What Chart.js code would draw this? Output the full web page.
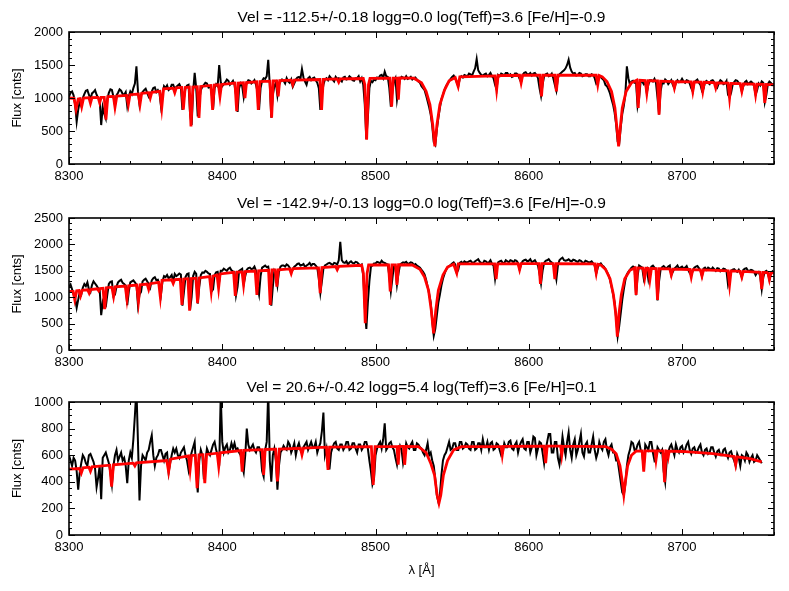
<!DOCTYPE html>
<html>
<head>
<meta charset="utf-8">
<title>Spectrum fits</title>
<script src="https://cdn.jsdelivr.net/npm/chart.js@4.4.0/dist/chart.umd.min.js"></script>
<style>
  body { margin: 0; background: #fff; }
  canvas { position: absolute; left: 0; }
</style>
</head>
<body>
<canvas id="c1" width="789" height="190" style="top:0px"></canvas>
<canvas id="c2" width="789" height="186" style="top:190px"></canvas>
<canvas id="c3" width="789" height="215" style="top:376px"></canvas>
<script>
// observed spectra, one value per 1 A starting at 8300 A
const waveStart = 8300;
const waveStep = 1;

const titles = [
  'Vel = -112.5+/-0.18 logg=0.0 log(Teff)=3.6 [Fe/H]=-0.9',
  'Vel = -142.9+/-0.13 logg=0.0 log(Teff)=3.6 [Fe/H]=-0.9',
  'Vel = 20.6+/-0.42 logg=5.4 log(Teff)=3.6 [Fe/H]=0.1'
];

const flux1 = [
  1020,1080,1100,1040,900,640,820,950,880,1000,
  1060,1110,1120,1050,980,1070,1090,1120,1050,1000,
  980,590,860,760,690,980,1080,1130,1120,1020,
  890,1040,1080,1130,1110,1060,1050,1090,880,1020,
  1100,1060,1150,1220,1480,1100,900,1040,1090,1120,
  1140,1080,1020,1060,1100,1150,1160,1090,1120,1080,
  880,1040,1180,1150,1190,1120,1140,1200,1200,1130,
  1170,1190,1210,1160,820,1000,1150,1190,1200,760,
  590,1100,1380,1150,720,960,1120,1170,1200,1230,
  1220,1160,1180,1100,830,1150,1210,1180,1500,1240,
  1180,1210,1240,1280,1260,1200,1230,1260,1200,1040,
  790,1150,1220,1180,1010,1150,1230,1270,1260,1220,
  1240,1270,1200,1100,820,1150,1260,1300,1290,1330,
  1580,1200,700,1050,1180,1230,1040,1200,1250,1280,
  1260,1220,1300,1250,1230,1280,1170,1220,1280,1310,
  1320,1290,1440,1310,1250,1200,1300,1320,1270,1300,
  1310,1270,1230,1150,820,1050,1200,1280,1300,1270,
  1330,1300,1280,1250,1320,1290,1300,1270,1250,1310,
  1320,1280,1290,1330,1310,1270,1260,1300,1300,1330,
  1250,1300,1200,900,380,700,1150,1260,1240,1280,
  1270,1310,1300,1340,1350,1300,1400,1330,1320,1150,
  870,1100,1250,1300,980,1150,1280,1320,1310,1290,
  1330,1290,1300,1320,1280,1300,1310,1280,1250,1230,
  1180,1150,1120,1040,950,860,750,580,330,290,
  520,700,850,980,1050,1120,1180,1220,1250,1290,
  1320,1340,1300,1240,1180,1300,1330,1310,1350,1340,
  1330,1370,1360,1340,1400,1450,1590,1420,1380,1350,
  1340,1360,1370,1330,1350,1380,1330,1300,1200,1130,
  1350,1330,1370,1360,1340,1380,1380,1340,1360,1320,
  1330,1370,1370,1350,1290,1240,1350,1380,1390,1360,
  1360,1380,1340,1370,1380,1350,1300,1150,1030,1200,
  1330,1360,1370,1330,1340,1370,1300,1200,1110,1300,
  1360,1380,1400,1420,1450,1500,1580,1460,1400,1370,
  1380,1340,1350,1380,1370,1330,1340,1360,1360,1330,
  1330,1360,1350,1300,1220,1250,1310,1320,1290,1270,
  1200,1180,1130,1070,980,900,780,600,340,310,
  560,760,880,1050,1480,1300,1200,1250,1260,1230,
  1230,880,1000,1260,1250,1210,1240,1080,1200,1270,
  1270,1250,1290,1230,1000,750,1100,1230,1220,1280,
  1260,1210,1240,1270,1200,1150,1230,1270,1240,1250,
  1290,1250,1230,1270,1260,1220,1150,1100,1240,1260,
  1280,1230,1200,1110,1140,1240,1260,1230,1210,1260,
  1270,1240,1200,1160,1230,1270,1250,1210,1220,1260,
  1050,1010,1080,1200,1240,1270,1260,1230,1200,1100,
  1180,1240,1260,1210,1230,1250,1230,1180,1050,1120,
  1220,1190,1250,1230,940,1050,1210,1250,1230,1200,
  1220
];

const flux2 = [
  1200,1240,1150,1050,980,800,950,1100,1050,1180,
  1250,1210,1280,1150,1100,1230,1300,1260,1220,1170,
  1150,660,900,800,820,1050,1250,1290,1300,1020,
  1050,1200,1280,1310,1330,1270,1250,1220,850,1100,
  1280,1300,1320,1280,1240,850,1050,1100,1300,1330,
  1350,1300,1250,1180,1320,1360,1380,1320,1330,1200,
  1050,1300,1400,1380,1420,1360,1380,1420,1300,1440,
  1400,1420,1450,1430,840,1100,1380,1440,1450,760,
  1000,1400,1480,1440,880,1200,1420,1470,1460,1500,
  1480,1450,1440,1110,1150,1420,1470,1480,1300,1500,
  1500,1540,1520,1500,1540,1560,1510,1490,1480,1040,
  1200,1500,1520,1540,1250,1400,1520,1550,1560,1530,
  1540,1580,1500,1200,1050,1400,1560,1580,1600,1570,
  1580,1400,840,1200,1500,1450,1230,1480,1580,1600,
  1600,1580,1620,1600,1560,1480,1520,1580,1600,1630,
  1640,1600,1610,1630,1570,1600,1620,1650,1600,1630,
  1630,1600,1560,1350,1080,1300,1540,1600,1620,1640,
  1650,1630,1610,1650,1640,1620,1700,2050,1700,1660,
  1650,1680,1620,1660,1680,1650,1640,1670,1660,1630,
  1600,1620,1400,800,400,900,1300,1580,1600,1640,
  1640,1670,1660,1640,1690,1660,1650,1630,1620,1400,
  1110,1350,1600,1580,1240,1450,1620,1640,1660,1650,
  1670,1630,1640,1660,1650,1610,1630,1600,1580,1560,
  1520,1480,1430,1330,1200,1060,900,550,270,400,
  650,900,1050,1220,1350,1440,1520,1560,1590,1610,
  1640,1660,1620,1460,1520,1650,1670,1640,1680,1660,
  1660,1680,1690,1660,1650,1680,1700,1720,1670,1650,
  1640,1690,1680,1650,1660,1700,1630,1600,1350,1560,
  1660,1680,1690,1650,1650,1700,1680,1660,1700,1690,
  1660,1700,1690,1650,1530,1620,1680,1700,1710,1680,
  1690,1720,1660,1680,1700,1650,1600,1450,1260,1500,
  1650,1690,1700,1720,1680,1660,1620,1500,1340,1600,
  1700,1730,1750,1700,1690,1700,1720,1690,1680,1710,
  1700,1680,1670,1700,1690,1660,1650,1690,1680,1660,
  1660,1680,1640,1600,1450,1560,1620,1640,1600,1580,
  1530,1480,1420,1330,1200,1060,900,600,260,450,
  700,950,1150,1320,1430,1480,1520,1560,1580,1560,
  1040,1400,1600,1580,1560,1360,1500,1540,1340,1500,
  1580,1600,1560,1520,940,1300,1520,1570,1590,1560,
  1550,1580,1600,1420,1480,1540,1570,1600,1540,1560,
  1580,1540,1560,1590,1520,1460,1420,1500,1560,1580,
  1590,1550,1500,1400,1540,1560,1520,1560,1540,1520,
  1560,1530,1500,1550,1540,1490,1510,1540,1530,1500,
  1240,1350,1500,1520,1530,1500,1480,1520,1460,1380,
  1520,1540,1550,1500,1500,1520,1510,1480,1420,1470,
  1480,1400,1150,1380,1480,1500,1470,1330,1460,1490,
  1440
];

const flux3 = [
  600,560,520,580,560,480,340,470,540,600,
  580,540,520,600,610,580,550,500,360,430,
  520,270,580,600,620,580,540,470,380,520,
  600,640,560,590,620,560,580,520,390,560,
  620,580,720,900,1100,700,260,520,600,580,
  560,620,640,700,750,600,520,580,600,640,
  640,600,560,610,620,470,540,600,650,620,
  650,600,580,620,640,660,600,560,490,570,
  620,660,700,480,320,560,640,600,420,560,
  650,620,600,640,680,700,640,600,520,1050,
  700,620,660,680,620,640,690,650,690,640,
  650,620,600,520,470,600,800,680,640,660,
  680,640,620,660,660,620,480,440,640,700,
  1080,560,400,600,650,560,340,520,620,640,
  670,650,640,700,680,620,650,690,600,660,
  690,640,620,660,680,700,640,670,700,660,
  660,700,620,660,690,780,920,600,650,500,
  500,620,660,690,700,650,640,680,680,640,
  660,700,700,640,650,690,690,650,620,680,
  680,640,660,700,700,650,560,480,380,420,
  600,650,680,700,650,720,840,640,660,690,
  700,660,640,580,530,620,670,640,540,600,
  690,660,650,680,700,640,640,690,680,660,
  650,620,600,640,690,600,620,560,520,420,
  300,250,300,450,560,600,620,660,700,640,
  650,690,690,640,640,700,700,650,660,690,
  680,650,640,700,700,640,650,690,690,640,
  720,660,660,700,640,690,700,640,650,690,
  680,640,600,620,690,660,660,700,710,650,
  640,680,700,620,670,700,720,650,640,700,
  700,620,660,740,730,600,650,700,690,620,
  540,640,700,760,760,620,620,700,700,580,
  530,620,740,660,600,700,770,640,580,680,
  720,600,640,700,760,620,590,680,700,620,
  620,680,740,640,580,620,700,660,640,700,
  720,640,600,660,680,620,620,560,560,480,
  400,320,300,380,520,600,640,700,690,640,
  640,680,700,640,620,500,680,660,640,700,
  700,620,560,580,660,640,620,640,480,400,
  560,620,660,680,640,600,680,640,620,660,
  670,620,640,680,700,640,610,650,660,620,
  630,660,680,620,600,640,650,610,620,660,
  660,620,590,630,640,600,600,640,650,610,
  580,620,630,590,560,520,610,580,520,600,
  590,560,620,600,550,580,600,550,560,600,
  580,560,540
];

// best-fit template, [wavelength, flux]
const model1 = [
  [8300,1000],[8303.3,995],[8304.6,830],[8306,985],[8307.3,990],[8308.3,870],[8309.5,1000],
  [8313,1005],[8314,920],[8315,1005],[8319,1010],[8320,930],[8321,1010],[8323,1010],[8324.1,672],
  [8325.3,1020],[8329,1025],[8330,860],[8331.2,1030],[8337.6,1040],[8338.7,900],[8339.8,1050],
  [8345.2,1060],[8346.3,900],[8347.4,1070],[8352,1080],[8353,1000],[8354,1085],[8359.3,1100],
  [8360.5,850],[8361.7,1140],[8368,1150],[8369,1080],[8370,1155],[8373.5,1160],[8374.6,823],
  [8375.8,1160],[8378.5,1165],[8379.6,570],[8380.8,1165],[8383.7,1170],[8384.8,700],[8385.9,1175],
  [8392.6,1190],[8393.7,820],[8394.8,1195],[8397.5,1200],[8398.5,1025],[8399.5,1205],[8408.3,1225],
  [8409.4,800],[8410.5,1225],[8413.8,1230],[8414.8,1000],[8415.8,1235],[8422.4,1245],[8423.5,820],
  [8424.6,1250],[8431.1,1255],[8432.2,700],[8433.3,1260],[8435.5,1260],[8436.5,1025],[8437.5,1265],
  [8445,1270],[8446,1200],[8447,1272],[8463.7,1280],[8464.8,820],[8465.9,1282],[8475,1290],
  [8476,1240],[8477,1290],[8492,1295],[8493,1200],[8494.2,370],[8495.4,1200],[8496.4,1298],
  [8509.4,1300],[8510.5,870],[8511.6,1300],[8514,1300],[8514.9,975],[8515.8,1305],[8525,1300],
  [8530,1230],[8533,1100],[8535.5,900],[8537.3,600],[8538.7,268],[8540.1,600],[8542,900],
  [8545,1120],[8548,1260],[8552,1310],[8553.9,1175],[8555,1320],[8578,1335],[8579,1125],
  [8580,1340],[8594,1345],[8595,1230],[8596,1345],[8607.3,1345],[8608.3,1025],[8609.3,1345],
  [8617,1345],[8618,1100],[8619,1348],[8644,1345],[8645,1200],[8646,1340],[8648,1320],
  [8651,1250],[8654,1100],[8656.2,850],[8657.5,550],[8658.6,268],[8659.7,550],[8661,850],
  [8663.5,1100],[8667,1230],[8670.4,1270],[8671.4,850],[8672.4,1268],[8676,1265],[8677,1075],
  [8678,1262],[8684,1258],[8685,747],[8686,1255],[8694,1250],[8695,1150],[8696,1248],
  [8706,1245],[8707,1100],[8708,1243],[8712.5,1240],[8713.5,1100],[8714.5,1238],[8721,1232],
  [8722,1150],[8723,1230],[8730,1225],[8731,1000],[8732,1222],[8738,1218],[8739,1100],
  [8740,1215],[8747,1212],[8748,1050],[8749,1210],[8753,1208],[8754,925],[8755,1205],[8760,1200]
];

const model2 = [
  [8300,1110],[8302.7,1110],[8303.8,950],[8305,1120],[8306.5,1125],[8307.5,1025],[8308.5,1130],
  [8312.2,1140],[8313.2,1076],[8314.2,1145],[8318.5,1160],[8319.4,1120],[8320.3,1165],[8322.2,1170],
  [8323.3,772],[8324.4,1180],[8328,1190],[8329.1,1013],[8330.2,1195],[8336.7,1210],[8337.8,962],
  [8338.9,1215],[8344.2,1230],[8345.3,918],[8346.4,1235],[8351,1250],[8352,1150],[8353,1255],
  [8358.5,1280],[8359.6,1000],[8360.7,1320],[8367,1330],[8368,1260],[8369,1335],[8372.6,1340],
  [8373.7,854],[8374.8,1345],[8377.6,1350],[8378.7,747],[8379.8,1355],[8382.8,1360],[8383.9,886],
  [8385,1365],[8391.7,1390],[8392.8,1108],[8393.9,1400],[8396.6,1420],[8397.6,1170],[8398.6,1440],
  [8407.4,1470],[8408.5,1025],[8409.6,1475],[8412.9,1480],[8413.9,1234],[8414.9,1485],[8421.5,1495],
  [8422.6,1044],[8423.7,1500],[8430.2,1510],[8431.3,854],[8432.4,1515],[8434.6,1515],[8435.6,1200],
  [8436.6,1520],[8444,1535],[8445,1450],[8446,1540],[8462.8,1555],[8463.9,1076],[8465,1560],
  [8474,1580],[8475,1520],[8476,1585],[8491,1605],[8492.1,1450],[8493.3,506],[8494.5,1450],
  [8495.5,1610],[8508.5,1612],[8509.6,1108],[8510.7,1612],[8513,1612],[8514,1234],[8515,1614],
  [8524,1610],[8529,1530],[8532,1380],[8534.6,1130],[8536.4,750],[8537.9,316],[8539.3,750],
  [8541,1130],[8544,1420],[8547,1570],[8551,1625],[8553,1456],[8554,1630],[8577.7,1632],
  [8578.7,1342],[8579.7,1633],[8593,1635],[8594,1519],[8595,1635],[8606.6,1635],[8607.6,1253],
  [8608.6,1635],[8616,1635],[8617,1342],[8618,1635],[8643,1630],[8644,1456],[8645,1625],
  [8647,1610],[8650,1530],[8653,1350],[8655.2,1050],[8656.7,700],[8657.8,253],[8658.9,700],
  [8660.4,1050],[8662.6,1350],[8666,1510],[8669,1555],[8670,1044],[8671,1553],[8674.6,1550],
  [8675.6,1361],[8676.6,1548],[8678,1546],[8679,1329],[8680,1544],[8683,1540],[8684,950],
  [8685,1538],[8692,1535],[8693,1420],[8694,1533],[8705,1525],[8706,1380],[8707,1523],
  [8712,1518],[8713,1400],[8714,1516],[8730,1500],[8731,1234],[8732,1498],[8738,1490],
  [8739,1380],[8740,1488],[8751,1470],[8752,1152],[8753,1468],[8756,1465],[8757,1330],
  [8758,1462],[8760,1460]
];

const model3 = [
  [8300,495],[8306.8,500],[8308,465],[8309.2,505],[8313,510],[8314,480],[8315,512],
  [8326.6,525],[8327.8,364],[8329,528],[8342,540],[8343,520],[8344,542],[8363.8,560],
  [8365,477],[8366.2,570],[8378,595],[8379,490],[8380,598],[8382.4,600],[8383.6,352],
  [8384.8,602],[8387.4,604],[8388.6,389],[8389.8,606],[8396.7,615],[8397.7,515],[8398.7,618],
  [8412,635],[8413,477],[8414,636],[8426,642],[8427,452],[8428,643],[8434.8,645],[8436,402],
  [8437.2,646],[8451,652],[8452,603],[8453,653],[8468,660],[8469,490],[8470,661],[8497.3,665],
  [8498.5,377],[8499.7,665],[8514,666],[8514.8,528],[8515.6,666],[8518.2,666],[8519,528],
  [8520,666],[8528,664],[8533,620],[8536,540],[8538.5,450],[8540.2,300],[8541.4,239],
  [8542.6,300],[8544.3,450],[8547,560],[8551,640],[8556,664],[8582,667],[8582.7,603],
  [8583.5,667],[8610,668],[8611,540],[8612,668],[8620.8,668],[8621.5,600],[8622.3,668],
  [8650,665],[8654,645],[8657,610],[8659.5,520],[8661,400],[8662,302],[8663,400],[8664.5,520],
  [8667,600],[8670,630],[8674,632],[8675,477],[8676,632],[8682.3,632],[8683,565],[8683.8,632],
  [8687.6,632],[8688.6,397],[8689.6,632],[8690.4,630],[8691,590],[8691.6,630],[8700,628],
  [8720,612],[8734,590],[8735,528],[8736,588],[8745,572],[8752,550]
];

const FONT = "'Liberation Sans', Arial, Helvetica, sans-serif";

// IDL style frame: box plus inward ticks on all four sides
const frameTicks = {
  id: 'frameTicks',
  afterDatasetsDraw(chart, args, opts) {
    const { ctx, chartArea: a, scales: { x, y } } = chart;
    ctx.save();
    ctx.strokeStyle = '#000';
    ctx.lineWidth = 1;
    ctx.beginPath();
    for (let v = 8300; v <= 8760; v += 20) {
      const px = Math.round(x.getPixelForValue(v)) + 0.5;
      const len = v % 100 === 0 ? 6 : 3;
      ctx.moveTo(px, a.bottom); ctx.lineTo(px, a.bottom - len);
      ctx.moveTo(px, a.top); ctx.lineTo(px, a.top + len);
    }
    for (let v = 0; v <= y.max; v += opts.minor) {
      const py = Math.round(y.getPixelForValue(v)) + 0.5;
      const len = v % opts.major === 0 ? 6 : 3;
      ctx.moveTo(a.left, py); ctx.lineTo(a.left + len, py);
      ctx.moveTo(a.right, py); ctx.lineTo(a.right - len, py);
    }
    ctx.stroke();
    ctx.lineWidth = 1.6;
    ctx.strokeRect(a.left, a.top, a.right - a.left, a.bottom - a.top);
    ctx.restore();
  }
};

const makePanel = (id, title, flux, model, yMax, yStep, yMinor, padTop, padBottom, showXTitle) => {
  const spectrum = flux.map((v, i) => ({ x: waveStart + i * waveStep, y: v }));
  const fit = model.map((p) => ({ x: p[0], y: p[1] }));

  return new Chart(document.getElementById(id), {
    type: 'line',
    data: {
      datasets: [
        { label: 'model', data: fit, borderColor: '#ff0000', borderWidth: 2.8, pointRadius: 0, tension: 0 },
        { label: 'spectrum', data: spectrum, borderColor: '#000000', borderWidth: 2, pointRadius: 0, tension: 0 }
      ]
    },
    options: {
      responsive: false,
      animation: false,
      events: [],
      layout: { padding: { top: padTop, right: 15, bottom: padBottom, left: 0 } },
      plugins: {
        legend: { display: false },
        tooltip: { enabled: false },
        title: {
          display: true,
          text: title,
          color: '#000',
          fullSize: false,
          font: { family: FONT, size: 15.5, weight: 'normal' },
          padding: { top: 0, bottom: 5 }
        },
        frameTicks: { major: yStep, minor: yMinor }
      },
      scales: {
        x: {
          type: 'linear',
          min: 8300,
          max: 8760,
          grid: { display: false, drawTicks: false },
          border: { display: false },
          ticks: {
            stepSize: 100, color: '#000', font: { family: FONT, size: 13 }, padding: 5, maxRotation: 0,
            callback: (v) => String(v)
          },
          afterBuildTicks: (s) => { s.ticks = s.ticks.filter((t) => t.value % 100 === 0); },
          afterFit: (s) => { s.height = showXTitle ? 48 : 26; },
          title: {
            display: showXTitle,
            text: 'λ [Å]',
            color: '#000',
            font: { family: FONT, size: 13 },
            padding: { top: 0, bottom: 5 }
          }
        },
        y: {
          min: 0,
          max: yMax,
          grid: { display: false, drawTicks: false },
          border: { display: false },
          ticks: {
            stepSize: yStep, color: '#000', font: { family: FONT, size: 13 }, padding: 6,
            callback: (v) => String(v)
          },
          afterFit: (s) => { s.width = 69; },
          title: {
            display: true,
            text: 'Flux [cnts]',
            color: '#000',
            font: { family: FONT, size: 13 },
            padding: { top: 10, bottom: 0 }
          }
        }
      }
    },
    plugins: [frameTicks]
  });
};

makePanel('c1', titles[0], flux1, model1, 2000, 500, 100, 8.4, 0, false);
makePanel('c2', titles[1], flux2, model2, 2500, 500, 100, 4.4, 0, false);
makePanel('c3', titles[2], flux3, model3, 1000, 200, 50, 2.4, 8, true);
</script>
</body>
</html>
